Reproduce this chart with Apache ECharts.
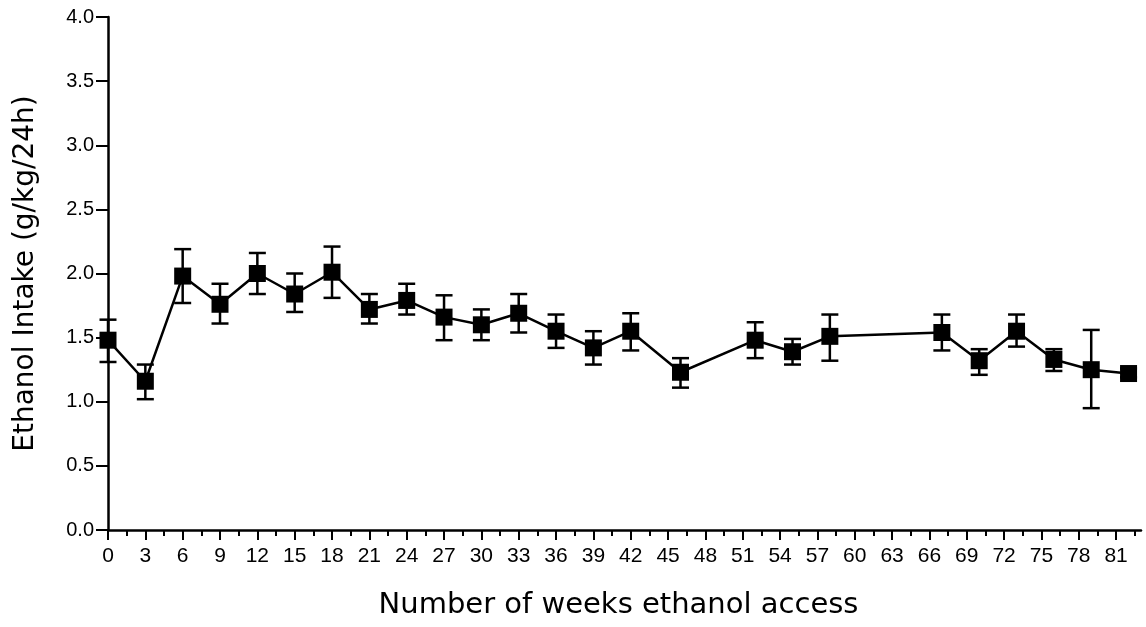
<!DOCTYPE html>
<html>
<head>
<meta charset="utf-8">
<script src="https://cdn.jsdelivr.net/npm/echarts@6/dist/echarts.min.js"></script>
<style>
html,body{margin:0;padding:0;background:#fff;}
#chart{width:1146px;height:627px;}
</style>
</head>
<body>
<div id="chart"></div>
<script>
// ---- data ----
var weeks = [0, 3, 6, 9, 12, 15, 18, 21, 24, 27, 30, 33, 36, 39, 42, 46, 52, 55, 58, 67, 70, 73, 76, 79, 82];
var means = [1.48, 1.16, 1.98, 1.76, 2.00, 1.84, 2.01, 1.72, 1.79, 1.66, 1.60, 1.69, 1.55, 1.42, 1.55, 1.23, 1.48, 1.39, 1.51, 1.54, 1.32, 1.55, 1.33, 1.25, 1.22];
var upper = [1.64, 1.29, 2.19, 1.92, 2.16, 2.00, 2.21, 1.84, 1.92, 1.83, 1.72, 1.84, 1.68, 1.55, 1.69, 1.34, 1.62, 1.49, 1.68, 1.68, 1.41, 1.68, 1.41, 1.56, 1.26];
var lower = [1.31, 1.02, 1.77, 1.61, 1.84, 1.70, 1.81, 1.61, 1.68, 1.48, 1.48, 1.54, 1.42, 1.29, 1.40, 1.11, 1.34, 1.29, 1.32, 1.40, 1.21, 1.43, 1.24, 0.95, 1.19];
var xMajorTicks = [0, 3, 6, 9, 12, 15, 18, 21, 24, 27, 30, 33, 36, 39, 42, 45, 48, 51, 54, 57, 60, 63, 66, 69, 72, 75, 78, 81];
var xMinorTicks = [1.5, 4.5, 7.5, 10.5, 13.5, 16.5, 19.5, 22.5, 25.5, 28.5, 31.5, 34.5, 37.5, 40.5, 43.5, 46.5, 49.5, 52.5, 55.5, 58.5, 61.5, 64.5, 67.5, 70.5, 73.5, 76.5, 79.5, 82.5];
var xTitle = 'Number of weeks ethanol access';
var yTitle = 'Ethanol Intake (g/kg/24h)';

var lineData = weeks.map(function (w, i) { return [w, means[i]]; });
var errData = weeks.map(function (w, i) { return [w, lower[i], upper[i]]; });

var TITLE_FONT = '"DejaVu Sans", Verdana, sans-serif';
var FONT = '"Liberation Sans", Arial, Helvetica, sans-serif';
var chart = echarts.init(document.getElementById('chart'), null, {renderer: 'canvas'});

chart.setOption({
  animation: false,
  backgroundColor: '#fff',
  grid: {left: 108, right: 5, top: 17, bottom: 97, containLabel: false},
  xAxis: [{
    type: 'value', min: 0, max: 83, position: 'bottom',
    axisLine: {show: true, onZero: false, lineStyle: {color: '#000', width: 2.5}},
    axisTick: {show: true, customValues: xMajorTicks, length: 10, inside: false, lineStyle: {color: '#000', width: 2}},
    axisLabel: {show: true, customValues: xMajorTicks, margin: 16, color: '#000', fontSize: 21, fontFamily: FONT},
    splitLine: {show: false},
    name: xTitle, nameLocation: 'middle', nameGap: 61,
    nameTextStyle: {color: '#000', fontSize: 29, fontFamily: TITLE_FONT, padding: [0, 12, 0, 0]}
  }, {
    type: 'value', min: 0, max: 83, position: 'bottom',
    axisLine: {show: false, onZero: false},
    axisTick: {show: true, customValues: xMinorTicks, length: 6, inside: false, lineStyle: {color: '#000', width: 2}},
    axisLabel: {show: false},
    splitLine: {show: false}
  }],
  yAxis: {
    type: 'value', min: 0, max: 4, interval: 0.5,
    axisLine: {show: true, onZero: false, lineStyle: {color: '#000', width: 2.5}},
    axisTick: {show: true, length: 12, lineStyle: {color: '#000', width: 2}},
    axisLabel: {margin: 14, color: '#000', fontSize: 20, fontFamily: FONT,
      formatter: function (v) { return v.toFixed(1); }},
    splitLine: {show: false},
    name: yTitle, nameLocation: 'middle', nameGap: 68, nameRotate: 90,
    nameTextStyle: {color: '#000', fontSize: 28, fontFamily: TITLE_FONT}
  },
  series: [{
    type: 'custom',
    xAxisIndex: 0,
    data: errData,
    z: 3,
    renderItem: function (params, api) {
      var x = api.value(0);
      var lo = api.coord([x, api.value(1)]);
      var hi = api.coord([x, api.value(2)]);
      var hw = 8.5;
      var st = {stroke: '#000', lineWidth: 2.5, fill: null};
      return {
        type: 'group',
        children: [
          {type: 'line', shape: {x1: hi[0], y1: hi[1], x2: lo[0], y2: lo[1]}, style: st},
          {type: 'line', shape: {x1: hi[0] - hw, y1: hi[1], x2: hi[0] + hw, y2: hi[1]}, style: st},
          {type: 'line', shape: {x1: lo[0] - hw, y1: lo[1], x2: lo[0] + hw, y2: lo[1]}, style: st}
        ]
      };
    }
  }, {
    type: 'line',
    xAxisIndex: 0,
    data: lineData,
    z: 4,
    symbol: 'rect',
    symbolSize: 17,
    itemStyle: {color: '#000'},
    lineStyle: {color: '#000', width: 2.5}
  }]
});
</script>
</body>
</html>
